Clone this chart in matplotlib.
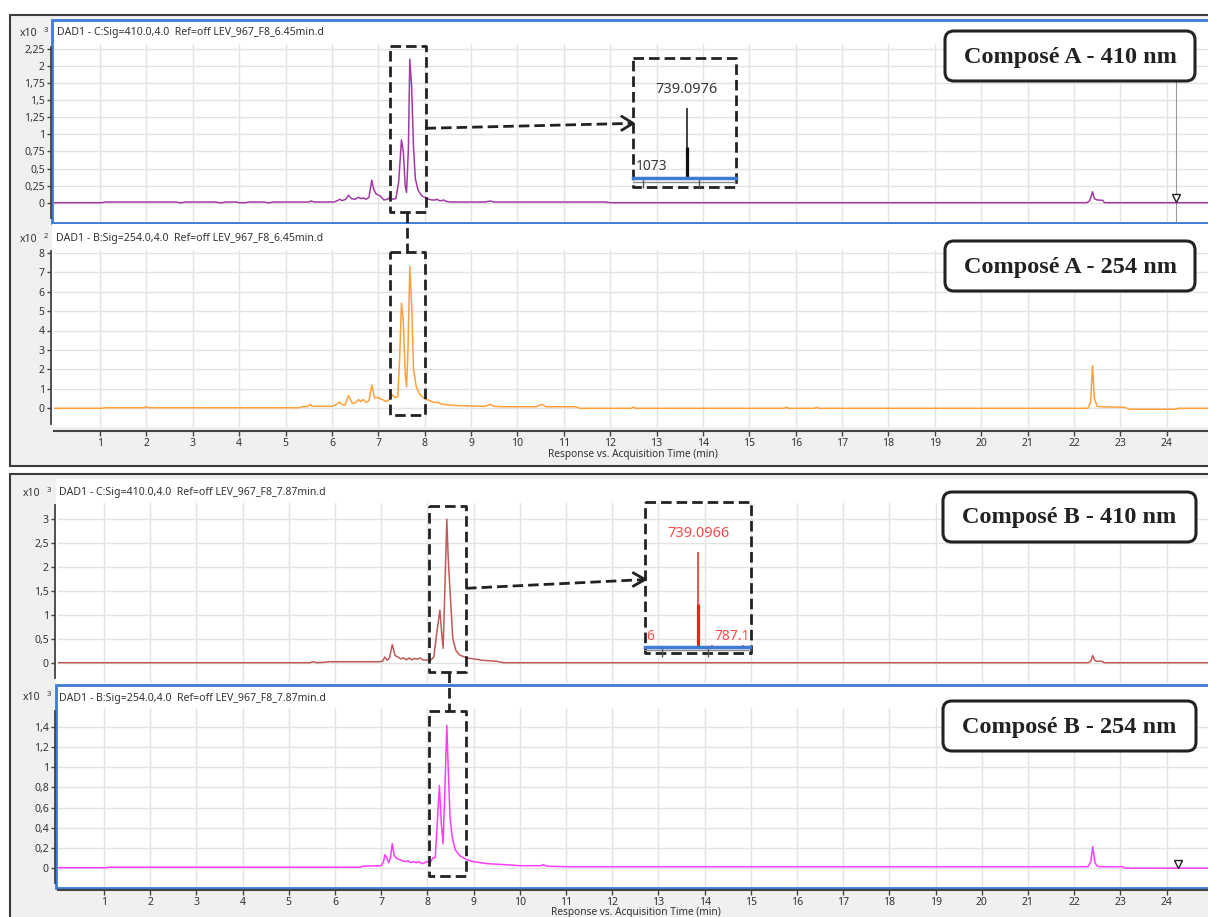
import matplotlib
matplotlib.use('Agg')
import matplotlib.pyplot as plt
from matplotlib.patches import Rectangle, FancyBboxPatch

plt.rcParams['font.family'] = ['Noto Sans', 'DejaVu Sans']

# ---------------- DATA ----------------
# Composé A - 410 nm (x10^3)
A410_t = [0.00, 1.05, 1.10, 2.65, 2.70, 2.78, 2.83, 3.50, 3.55, 3.65,
          3.70, 3.95, 4.00, 4.15, 4.20, 4.55, 4.60, 4.68, 4.72, 5.50,
          5.55, 5.62, 6.05, 6.12, 6.17, 6.22, 6.30, 6.36, 6.42, 6.50,
          6.57, 6.62, 6.68, 6.74, 6.80, 6.86, 6.90, 6.95, 7.04, 7.12,
          7.20, 7.25, 7.30, 7.38, 7.44, 7.50, 7.54, 7.58, 7.61, 7.65,
          7.68, 7.72, 7.76, 7.80, 7.86, 7.94, 8.05, 8.15, 8.22, 8.27,
          8.32, 8.37, 8.41, 8.46, 8.55, 9.30, 9.41, 9.50, 11.90, 12.00,
          22.28, 22.34, 22.40, 22.44, 22.50, 22.62, 22.66, 24.90]
A410_v = [0.000, 0.000, 0.010, 0.010, 0.000, 0.000, 0.010, 0.010, 0.000, 0.000,
          0.010, 0.010, 0.000, 0.000, 0.010, 0.010, 0.000, 0.000, 0.010, 0.010,
          0.025, 0.010, 0.010, 0.030, 0.050, 0.030, 0.050, 0.110, 0.060, 0.050,
          0.080, 0.060, 0.070, 0.050, 0.080, 0.330, 0.200, 0.130, 0.100, 0.040,
          0.050, 0.080, 0.050, 0.060, 0.300, 0.920, 0.750, 0.250, 0.150, 0.800,
          2.100, 1.700, 0.800, 0.350, 0.180, 0.100, 0.060, 0.040, 0.040, 0.050,
          0.030, 0.030, 0.040, 0.020, 0.010, 0.010, 0.025, 0.010, 0.010, 0.000,
          0.000, 0.030, 0.160, 0.060, 0.040, 0.035, 0.000, 0.000]

# Composé A - 254 nm (x10^2)
A254_t = [0.00, 1.05, 1.10, 1.95, 2.00, 2.05, 5.30, 5.35, 5.48, 5.53,
          5.58, 6.00, 6.10, 6.16, 6.22, 6.28, 6.36, 6.44, 6.52, 6.57,
          6.62, 6.68, 6.74, 6.80, 6.86, 6.92, 7.00, 7.08, 7.18, 7.26,
          7.30, 7.36, 7.42, 7.46, 7.50, 7.54, 7.58, 7.61, 7.64, 7.68,
          7.72, 7.76, 7.82, 7.90, 8.00, 8.10, 8.20, 8.29, 8.36, 8.50,
          8.70, 9.00, 9.30, 9.41, 9.50, 9.70, 10.40, 10.53, 10.62, 11.25,
          11.35, 12.45, 12.50, 12.55, 15.75, 15.80, 15.85, 16.40, 16.45, 16.50,
          22.30, 22.36, 22.40, 22.44, 22.50, 22.60, 23.10, 23.20, 24.18, 24.25,
          24.90]
A254_v = [0.00, 0.00, 0.03, 0.03, 0.08, 0.03, 0.03, 0.08, 0.10, 0.20,
          0.10, 0.10, 0.20, 0.32, 0.20, 0.15, 0.65, 0.25, 0.30, 0.45,
          0.35, 0.45, 0.30, 0.40, 1.20, 0.55, 0.55, 0.45, 0.35, 0.50,
          0.70, 0.55, 0.60, 2.50, 5.40, 4.50, 1.80, 1.10, 3.00, 7.30,
          5.30, 2.00, 1.10, 0.70, 0.50, 0.40, 0.30, 0.30, 0.22, 0.17,
          0.14, 0.12, 0.10, 0.20, 0.10, 0.08, 0.08, 0.20, 0.08, 0.08,
          0.00, 0.00, 0.06, 0.00, 0.00, 0.05, 0.00, 0.00, 0.05, 0.00,
          0.00, 0.30, 2.20, 0.50, 0.10, 0.08, 0.05, -0.05, -0.05, 0.00,
          0.00]

# Composé B - 410 nm (x10^3)
B410_t = [0.00, 5.45, 5.53, 5.60, 5.80, 5.85, 6.95, 7.03, 7.08, 7.13,
          7.18, 7.24, 7.30, 7.36, 7.42, 7.48, 7.55, 7.60, 7.66, 7.72,
          7.78, 7.84, 7.90, 8.00, 8.08, 8.14, 8.20, 8.27, 8.31, 8.34,
          8.38, 8.42, 8.45, 8.49, 8.55, 8.62, 8.70, 8.85, 9.00, 9.20,
          9.50, 9.65, 22.30, 22.36, 22.40, 22.45, 22.50, 22.60, 22.65, 24.90]
B410_v = [0.00, 0.00, 0.02, 0.00, 0.01, 0.02, 0.02, 0.03, 0.12, 0.05,
          0.10, 0.38, 0.15, 0.12, 0.08, 0.10, 0.06, 0.10, 0.06, 0.09,
          0.07, 0.10, 0.06, 0.05, 0.06, 0.12, 0.60, 1.10, 0.60, 0.30,
          1.60, 3.00, 2.20, 1.50, 0.50, 0.25, 0.16, 0.10, 0.08, 0.05,
          0.03, 0.00, 0.00, 0.03, 0.15, 0.04, 0.03, 0.03, 0.00, 0.00]

# Composé B - 254 nm (x10^3)
B254_t = [0.00, 1.05, 1.10, 6.55, 6.60, 7.00, 7.05, 7.08, 7.12, 7.16,
          7.20, 7.24, 7.28, 7.34, 7.40, 7.46, 7.52, 7.58, 7.64, 7.70,
          7.76, 7.82, 7.88, 7.94, 8.00, 8.06, 8.12, 8.17, 8.22, 8.26,
          8.30, 8.34, 8.38, 8.42, 8.45, 8.49, 8.54, 8.60, 8.70, 8.85,
          9.00, 9.30, 9.70, 10.00, 10.45, 10.51, 10.58, 11.00, 22.30, 22.36,
          22.40, 22.45, 22.50, 22.55, 23.05, 23.10, 24.90]
B254_v = [0.000, 0.000, 0.005, 0.005, 0.015, 0.020, 0.060, 0.130, 0.100, 0.050,
          0.100, 0.240, 0.120, 0.090, 0.080, 0.070, 0.060, 0.070, 0.050, 0.060,
          0.050, 0.060, 0.040, 0.050, 0.060, 0.050, 0.100, 0.100, 0.500, 0.820,
          0.450, 0.240, 0.800, 1.420, 1.000, 0.500, 0.300, 0.180, 0.120, 0.080,
          0.060, 0.040, 0.030, 0.020, 0.020, 0.030, 0.015, 0.010, 0.010, 0.060,
          0.210, 0.050, 0.015, 0.010, 0.010, -0.005, -0.005]

# y ticks / labels
A410_yticks = [0, 0.25, 0.5, 0.75, 1, 1.25, 1.5, 1.75, 2, 2.25]
A410_ylabels = ['0', '0,25', '0,5', '0,75', '1', '1,25', '1,5', '1,75', '2', '2,25']
A254_yticks = [0, 1, 2, 3, 4, 5, 6, 7, 8]
A254_ylabels = ['0', '1', '2', '3', '4', '5', '6', '7', '8']
B410_yticks = [0, 0.5, 1, 1.5, 2, 2.5, 3]
B410_ylabels = ['0', '0,5', '1', '1,5', '2', '2,5', '3']
B254_yticks = [0, 0.2, 0.4, 0.6, 0.8, 1.0, 1.2, 1.4]
B254_ylabels = ['0', '0,2', '0,4', '0,6', '0,8', '1', '1,2', '1,4']
x_ticks = list(range(1, 25))

titles = ['DAD1 - C:Sig=410.0,4.0  Ref=off LEV_967_F8_6.45min.d',
          'DAD1 - B:Sig=254.0,4.0  Ref=off LEV_967_F8_6.45min.d',
          'DAD1 - C:Sig=410.0,4.0  Ref=off LEV_967_F8_7.87min.d',
          'DAD1 - B:Sig=254.0,4.0  Ref=off LEV_967_F8_7.87min.d']
labels = ['Composé A - 410 nm', 'Composé A - 254 nm',
          'Composé B - 410 nm', 'Composé B - 254 nm']
exponents = ['3', '2', '3', '3']

# cursor markers
cursor_A_t, cursor_A_v = [24.2], [0.07]
cursor_B_t, cursor_B_v = [24.25], [0.035]

# mass spectra insets
specA_mz = [739.0976]
specA_int = [100]
specA_core = [44]
specB_mz = [739.0966, 753.7, 787.1]
specB_int = [100, 2, 2]
specB_core = [45, 0, 0]

# ---------------- LAYOUT ----------------
W, H = 1208, 917
fig = plt.figure(figsize=(W / 100, H / 100), dpi=100)
fig.patch.set_facecolor('white')

bg = fig.add_axes([0, 0, 1, 1], zorder=0)
bg.set_xlim(0, W); bg.set_ylim(H, 0); bg.axis('off')

FRAME = '#3c3c3c'
BLUE = '#3f7bd6'
bg.add_patch(Rectangle((10, 15), 1210, 451, fc='#f0f0f0', ec=FRAME, lw=1.5))
bg.add_patch(Rectangle((10, 474), 1210, 460, fc='#f0f0f0', ec=FRAME, lw=1.5))
bg.add_patch(Rectangle((52, 20), 1170, 203, fc='white', ec=BLUE, lw=2))
bg.add_patch(Rectangle((52, 224), 1170, 203, fc='white', ec='none'))
bg.add_patch(Rectangle((56, 479), 1170, 205, fc='white', ec='none'))
bg.add_patch(Rectangle((56, 685), 1170, 203, fc='white', ec=BLUE, lw=2))

TXT = '#333333'


def panel(t, v, color, x0, ppm, top, bot, y0, ppu, yt, yl, spine_px, xaxis, xout):
    ax = fig.add_axes([x0 / W, 1 - bot / H, (W - x0) / W, (bot - top) / H], zorder=1)
    ax.patch.set_alpha(0)
    ax.set_xlim(0, (W - x0) / ppm)
    ax.set_ylim((y0 - bot) / ppu, (y0 - top) / ppu)
    ax.plot(t, v, color=color, lw=1.1, zorder=3)
    ax.set_xticks(x_ticks)
    ax.set_yticks(yt)
    ax.set_yticklabels(yl)
    ax.grid(True, color='#e3e3e3', lw=1, zorder=0)
    for s in ['top', 'right']:
        ax.spines[s].set_visible(False)
    ax.spines['left'].set_position(('outward', 2.2))
    ax.spines['left'].set_bounds((y0 - spine_px[1]) / ppu, (y0 - spine_px[0]) / ppu)
    ax.spines['left'].set_color('#444444')
    ax.spines['left'].set_linewidth(1.3)
    ax.tick_params(axis='y', direction='out', length=3, width=1, color='#444444',
                   labelsize=7.5, labelcolor=TXT, pad=1.2)
    if xaxis:
        ax.spines['bottom'].set_position(('outward', xout))
        ax.spines['bottom'].set_color('#444444')
        ax.spines['bottom'].set_linewidth(1.5)
        ax.tick_params(axis='x', direction='out', length=3.5, width=1, color='#444444',
                       labelsize=7.5, labelcolor=TXT, pad=1.2)
    else:
        ax.spines['bottom'].set_visible(False)
        ax.tick_params(axis='x', length=0, labelbottom=False)
    return ax


axA410 = panel(A410_t, A410_v, '#a23aa5', 53.6, 46.38, 44, 222, 202.7, 68.3,
               A410_yticks, A410_ylabels, (47, 218), False, 0)
axA254 = panel(A254_t, A254_v, '#ffa03a', 53.6, 46.38, 250, 427, 408.3, 19.45,
               A254_yticks, A254_ylabels, (251, 424), True, 2.9)
axB410 = panel(B410_t, B410_v, '#c05a5a', 57.8, 46.2, 503, 683, 662.7, 47.8,
               B410_yticks, B410_ylabels, (505, 678), False, 0)
axB254 = panel(B254_t, B254_v, '#ff3cff', 57.8, 46.2, 708, 887, 867.7, 100.3,
               B254_yticks, B254_ylabels, (711, 883), True, 2.2)

axA410.axvline(cursor_A_t[0], color='#999999', lw=0.8, zorder=2)
axA410.plot(cursor_A_t, cursor_A_v, marker='v', mfc='white', mec='#222222', ms=6,
            mew=1, ls='none', zorder=4, clip_on=False)
axB254.plot(cursor_B_t, cursor_B_v, marker='v', mfc='white', mec='#222222', ms=6,
            mew=1, ls='none', zorder=4, clip_on=False)

title_pos = [(57, 32), (56, 239), (59, 493), (59, 698)]
exp_pos = [(20, 33), (20, 239), (23, 493), (23, 698)]
for (tx, ty), ttl in zip(title_pos, titles):
    bg.text(tx, ty, ttl, fontsize=7.6, color=TXT, ha='left', va='center')
for (ex, ey), e in zip(exp_pos, exponents):
    bg.text(ex, ey, 'x10', fontsize=7.5, color=TXT, ha='left', va='center')
    bg.text(ex + 24, ey - 3, e, fontsize=5.5, color=TXT, ha='left', va='center')
bg.text(633, 454, 'Response vs. Acquisition Time (min)', fontsize=7.3, color=TXT,
        ha='center', va='center')
bg.text(636, 912, 'Response vs. Acquisition Time (min)', fontsize=7.3, color=TXT,
        ha='center', va='center')

# ---------------- OVERLAY ANNOTATIONS (pixel coords) ----------------
ov = fig.add_axes([0, 0, 1, 1], zorder=5)
ov.set_xlim(0, W); ov.set_ylim(H, 0); ov.axis('off')
ov.patch.set_alpha(0)

DK = '#222222'
dash = dict(color=DK, lw=2, ls=(0, (3.8, 1.8)))


def dbox(x0, y0, x1, y1):
    ov.plot([x0, x1, x1, x0, x0], [y0, y0, y1, y1, y0], **dash)


dbox(390, 46, 425.5, 212)
dbox(390, 251.7, 425, 415)
dbox(429.3, 506, 466, 671.7)
dbox(429.3, 711, 465.7, 876)
dbox(632.7, 58, 736, 186.7)
dbox(645, 502, 750.7, 653)

ov.plot([407, 407], [212, 251.7], **dash)
ov.plot([448.5, 448.5], [671.7, 711], **dash)
ov.plot([425.5, 631], [128.3, 123.4], **dash)
ov.plot([622, 633, 622], [116.5, 123.3, 130], color=DK, lw=2)
ov.plot([466, 644], [588.3, 579.6], **dash)
ov.plot([633.5, 645, 633.5], [573, 579.5, 586], color=DK, lw=2)

box_pos = [(945, 31, 250), (945, 241, 250), (943, 492, 253), (943, 701, 253)]
for (bx, by, bw), lab in zip(box_pos, labels):
    ov.add_patch(FancyBboxPatch((bx, by), bw, 50, boxstyle='round,pad=0,rounding_size=9',
                                fc='white', ec=DK, lw=2.2, zorder=6))
    ov.text(bx + bw / 2, by + 26, lab, fontsize=17.5, fontweight='bold',
            family=['Liberation Serif', 'DejaVu Serif'], color=DK,
            ha='center', va='center', zorder=7)

ov.plot([633, 735], [181.5, 181.5], color='#8a8a8a', lw=1)
ov.plot([645, 750], [650, 650], color='#8a8a8a', lw=1)
ov.text(636, 167, '1073', fontsize=10, color='#3a3a3a', ha='left', va='center')
ov.text(646, 636.5, '6', fontsize=10, color='#ff4a4a', ha='left', va='center')
ov.text(714, 636.5, '787.1', fontsize=10, color='#ff4a4a', ha='left', va='center')


def spectrum(left, right, top, base, xlim, mz, inten, core, color, label, lcolor, ticks):
    ax = fig.add_axes([left / W, 1 - base / H, (right - left) / W, (base - top) / H], zorder=6)
    ax.patch.set_alpha(0)
    ax.set_xlim(*xlim)
    ax.set_ylim(0, 100)
    ax.vlines(mz, 0, inten, color=color, lw=1.1)
    ax.vlines(mz, 0, core, color=color, lw=2.3)
    for s in ['top', 'right', 'left']:
        ax.spines[s].set_visible(False)
    ax.spines['bottom'].set_color(BLUE)
    ax.spines['bottom'].set_linewidth(2.5)
    ax.set_yticks([])
    ax.set_xticks(ticks)
    ax.tick_params(axis='x', direction='out', length=7, width=1, color='#555555',
                   labelbottom=False)
    ax.annotate(label, (mz[0], inten[0]), xytext=(0, 8), textcoords='offset points',
                ha='center', va='bottom', fontsize=10.5, color=lcolor, annotation_clip=False)
    return ax


spectrum(633, 736, 108, 178, (690.9, 782.9), specA_mz, specA_int, specA_core,
         '#111111', '739.0976', '#3a3a3a', [700, 750])
spectrum(645, 750, 551.7, 646.5, (682.1, 794.8), specB_mz, specB_int, specB_core,
         '#ff1a1a', '739.0966', '#ff4a4a', [700, 750])

fig.savefig('out.png', dpi=100)
